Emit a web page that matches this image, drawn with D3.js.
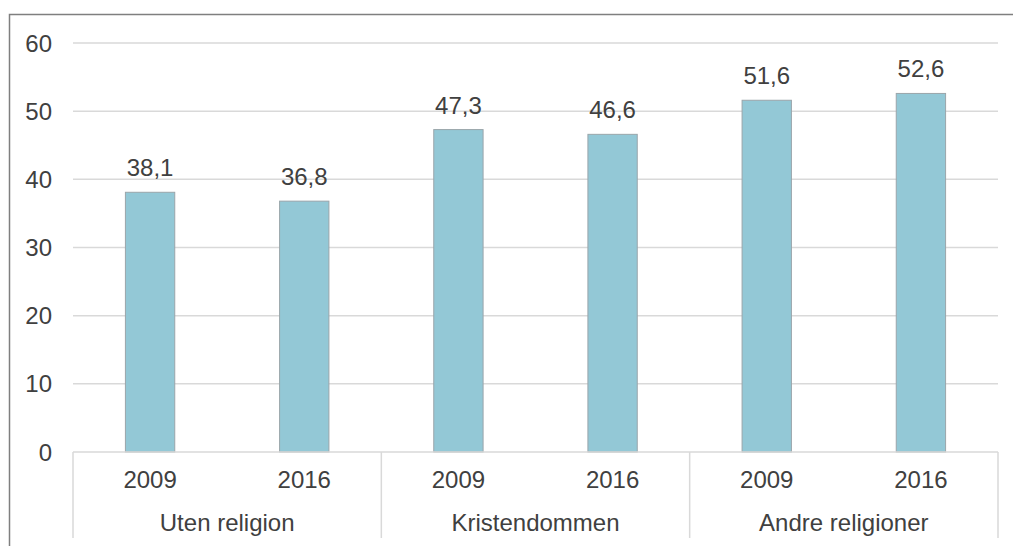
<!DOCTYPE html>
<html>
<head>
<meta charset="utf-8">
<script src="https://cdn.jsdelivr.net/npm/d3@7"></script>
<style>
  body { margin: 0; background: #fff; }
  text { font-family: "Liberation Sans", Arial, sans-serif; fill: #404040; font-size: 24px; }
</style>
</head>
<body>
<svg id="chart" width="1013" height="546"></svg>
<script>
// data
let groups = ["Uten religion", "Kristendommen", "Andre religioner"],
    years = ["2009", "2016"],
    values = [38.1, 36.8, 47.3, 46.6, 51.6, 52.6],
    yTicks = [0, 10, 20, 30, 40, 50, 60];

let width = 1013,
    height = 546,
    margins = {left: 73, right: 15, top: 43, bottom: 94};

let rows = [];
groups.forEach((g, i) => years.forEach((y, j) => rows.push({group: g, year: y, value: values[i * years.length + j], key: g + "|" + y})));

let svg = d3.select("#chart");

let scales = {
  x: d3.scaleBand()
       .domain(rows.map(d => d.key))
       .range([margins.left, width - margins.right])
       .paddingInner(0.68)
       .paddingOuter(0.34),
  y: d3.scaleLinear()
       .domain([0, 60])
       .range([height - margins.bottom, margins.top])
};

// outer frame (only top and left show inside the picture)
svg.append("path")
  .attr("d", `M9.5,${height + 5}V14.5H${width + 5}`)
  .attr("fill", "none")
  .attr("stroke", "#7f7f7f")
  .attr("stroke-width", 1.5);

// gridlines
svg.append("g")
  .selectAll("line")
  .data(yTicks.filter(t => t > 0))
  .join("line")
  .attr("x1", margins.left)
  .attr("x2", width - margins.right)
  .attr("y1", d => scales.y(d))
  .attr("y2", d => scales.y(d))
  .attr("stroke", "#d9d9d9")
  .attr("stroke-width", 1.5);

// y tick labels
svg.append("g")
  .selectAll("text")
  .data(yTicks)
  .join("text")
  .attr("x", 52)
  .attr("y", d => scales.y(d))
  .attr("dy", "0.36em")
  .attr("text-anchor", "end")
  .text(d => d);

// bars
svg.append("g")
  .selectAll("rect")
  .data(rows)
  .join("rect")
  .attr("x", d => scales.x(d.key))
  .attr("width", scales.x.bandwidth())
  .attr("y", d => scales.y(d.value))
  .attr("height", d => scales.y(0) - scales.y(d.value))
  .attr("fill", "#93c8d6")
  .attr("stroke", "#9aa5aa")
  .attr("stroke-width", 1);

// value labels
svg.append("g")
  .selectAll("text")
  .data(rows)
  .join("text")
  .attr("x", d => scales.x(d.key) + scales.x.bandwidth() / 2)
  .attr("y", d => scales.y(d.value) - 16)
  .attr("text-anchor", "middle")
  .text(d => d3.format(".1f")(d.value).replace(".", ","));

// category axis
let y0 = scales.y(0),
    groupW = (width - margins.right - margins.left) / groups.length;
svg.append("line")
  .attr("x1", margins.left).attr("x2", width - margins.right)
  .attr("y1", y0).attr("y2", y0)
  .attr("stroke", "#d9d9d9").attr("stroke-width", 1.5);

svg.append("g")
  .selectAll("line")
  .data(d3.range(groups.length + 1))
  .join("line")
  .attr("x1", i => margins.left + i * groupW)
  .attr("x2", i => margins.left + i * groupW)
  .attr("y1", y0)
  .attr("y2", 538)
  .attr("stroke", "#d9d9d9")
  .attr("stroke-width", 1.5);

svg.append("g")
  .selectAll("text")
  .data(rows)
  .join("text")
  .attr("x", d => scales.x(d.key) + scales.x.bandwidth() / 2)
  .attr("y", y0 + 27)
  .attr("dy", "0.36em")
  .attr("text-anchor", "middle")
  .text(d => d.year);

svg.append("g")
  .selectAll("text")
  .data(groups)
  .join("text")
  .attr("x", (d, i) => margins.left + (i + 0.5) * groupW)
  .attr("y", y0 + 70)
  .attr("dy", "0.36em")
  .attr("text-anchor", "middle")
  .text(d => d);
</script>
</body>
</html>
